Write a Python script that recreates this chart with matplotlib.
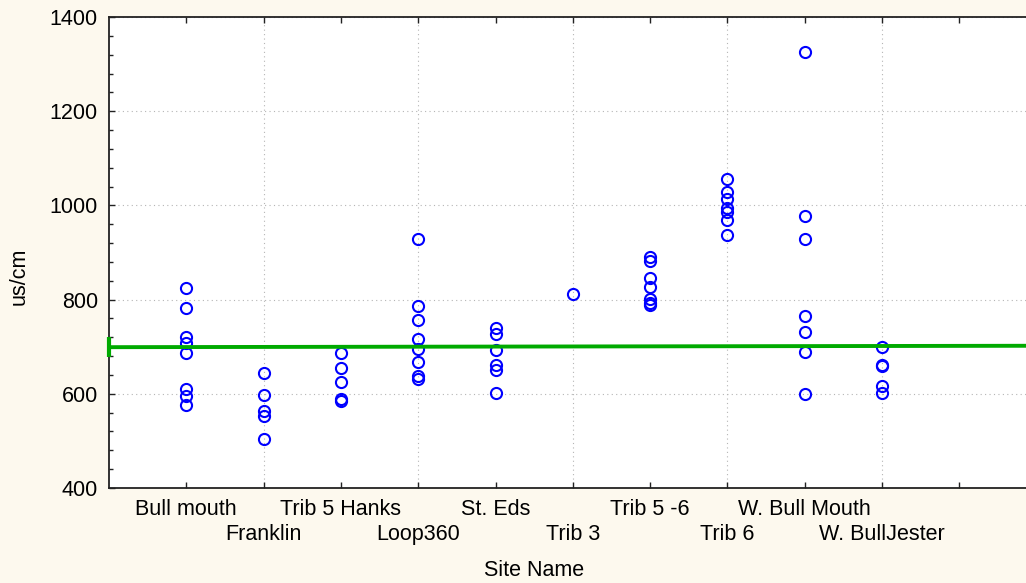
import numpy as np
import matplotlib
matplotlib.use("Agg")
import matplotlib.pyplot as plt
from matplotlib.ticker import FixedLocator, MultipleLocator

plt.rcParams['font.family'] = ['Liberation Sans', 'DejaVu Sans']

sites = ['Bull mouth', 'Franklin', 'Trib 5 Hanks', 'Loop360', 'St. Eds',
         'Trib 3', 'Trib 5 -6', 'Trib 6', 'W. Bull Mouth', 'W. BullJester']

# conductivity readings per site (us/cm)
bull_mouth = [824, 783, 721, 707, 686, 610, 596, 576]
franklin = [645, 597, 563, 553, 503]
trib5_hanks = [686, 655, 625, 589, 585]
loop360 = [928, 786, 757, 717, 695, 668, 638, 631]
st_eds = [739, 728, 694, 661, 651, 601]
trib3 = [811]
trib5_6 = [891, 883, 845, 827, 801, 793, 788]
trib6 = [1056, 1028, 1013, 994, 987, 970, 937]
w_bull_mouth = [1326, 978, 929, 765, 732, 688, 600]
w_bulljester = [700, 661, 659, 617, 602]

site_values = [bull_mouth, franklin, trib5_hanks, loop360, st_eds,
               trib3, trib5_6, trib6, w_bull_mouth, w_bulljester]

# fitted line (value at x=0 and slope per category)
fit_intercept = 699.0
fit_slope = 0.25

fig = plt.figure(figsize=(10.26, 5.83), dpi=100)
fig.patch.set_facecolor('#fdf9ee')
ax = fig.add_axes([109/1026, 95/583, 1 - 109/1026, 471/583])
ax.set_facecolor('white')

x_max = 917 / 77.3
ax.set_xlim(0, x_max)
ax.set_ylim(400, 1400)

for i, vals in enumerate(site_values):
    ax.plot(np.full(len(vals), i + 1), vals, 'o', mfc='none', mec='#0000ff',
            ms=8, mew=1.5, zorder=3)

xf = np.array([0, x_max])
ax.plot(xf, fit_intercept + fit_slope * xf, color='#00aa00', lw=2.8, zorder=4,
        solid_capstyle='butt')
ax.plot([0], [fit_intercept], marker='|', color='#00aa00', ms=15, mew=3,
        clip_on=False, zorder=5)

# odd categories on the upper label row, even on the lower row (with grid)
major_pos = [2, 4, 6, 8, 10]
minor_pos = [1, 3, 5, 7, 9, 11]
ax.xaxis.set_major_locator(FixedLocator(major_pos))
ax.xaxis.set_minor_locator(FixedLocator(minor_pos))
ax.set_xticklabels([sites[p - 1] for p in major_pos])
ax.set_xticklabels([sites[p - 1] if p <= len(sites) else '' for p in minor_pos],
                   minor=True)

ax.yaxis.set_major_locator(MultipleLocator(200))
ax.yaxis.set_minor_locator(MultipleLocator(40))

ax.tick_params(axis='both', which='both', direction='in', labelsize=15.5,
               color='#222222', width=1)
ax.tick_params(axis='x', which='minor', top=True, length=4, pad=8)
ax.tick_params(axis='x', which='major', top=True, length=4, pad=26)
ax.tick_params(axis='y', which='major', length=4, pad=8)
ax.tick_params(axis='y', which='minor', length=3)

ax.grid(True, which='major', linestyle=(0, (1, 3)), color='#b5b5b5', lw=0.8)

for side in ['left', 'bottom', 'top']:
    ax.spines[side].set_color('#222222')
    ax.spines[side].set_linewidth(1.3)
ax.spines['right'].set_visible(False)

ax.set_ylabel('us/cm', fontsize=15.5)
ax.yaxis.set_label_coords(-0.087, 0.45)
ax.set_xlabel('Site Name', fontsize=15.5)
ax.xaxis.set_label_coords(0.464, -0.152)

fig.savefig('out.png', dpi=100, facecolor=fig.get_facecolor())
